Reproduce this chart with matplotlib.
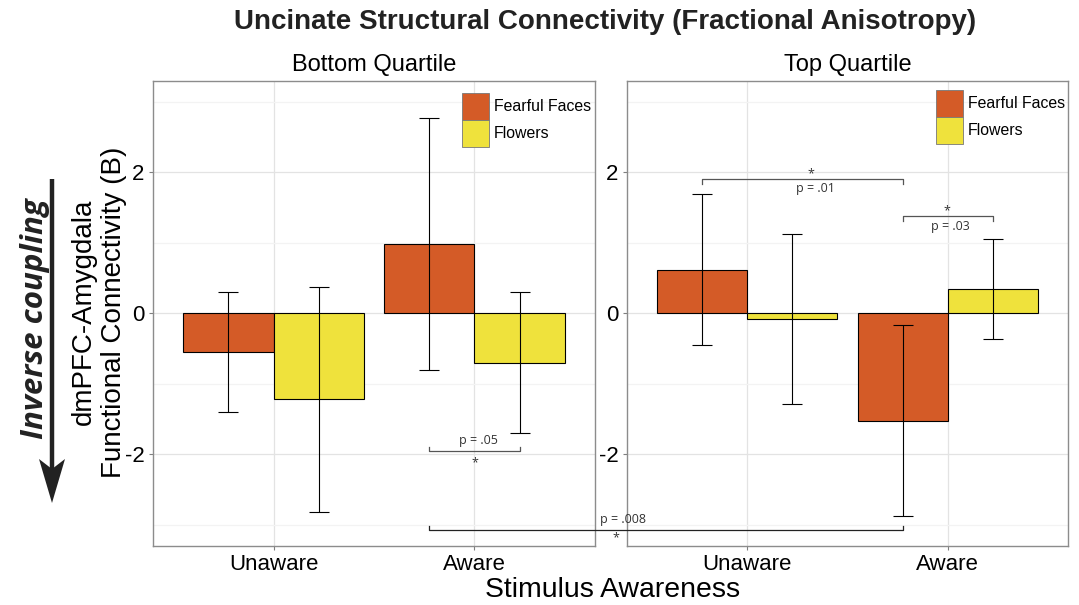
import numpy as np
import matplotlib
matplotlib.use("Agg")
import matplotlib.pyplot as plt
from matplotlib.lines import Line2D
from matplotlib.patches import Polygon

plt.rcParams['font.family'] = ['Liberation Sans', 'DejaVu Sans']

# data
conditions = ["Unaware", "Aware"]
stimuli = ["Fearful Faces", "Flowers"]
panels = ["Bottom Quartile", "Top Quartile"]

bottom_faces = [-0.55, 0.98]
bottom_faces_err = [0.85, 1.79]
bottom_flowers = [-1.22, -0.70]
bottom_flowers_err = [1.60, 1.00]

top_faces = [0.62, -1.52]
top_faces_err = [1.07, 1.35]
top_flowers = [-0.08, 0.34]
top_flowers_err = [1.20, 0.71]

colors = ["#D45B27", "#EFE23C"]

yticks = [-2, 0, 2]
ylims = (-3.3, 3.3)

fig = plt.figure(figsize=(10.79, 6.05), dpi=100)
W, H = 1079, 605


def px_axes(x0, x1, y0, y1):
    return fig.add_axes([x0 / W, 1 - y1 / H, (x1 - x0) / W, (y1 - y0) / H])


ax_left = px_axes(153, 595, 80.7, 546)
ax_right = px_axes(627, 1068, 80.7, 546)

x = np.arange(1, len(conditions) + 1)
bw = 0.45

series = [
    (ax_left, panels[0], bottom_faces, bottom_faces_err, bottom_flowers, bottom_flowers_err),
    (ax_right, panels[1], top_faces, top_faces_err, top_flowers, top_flowers_err),
]

for ax, title, f_vals, f_err, fl_vals, fl_err in series:
    ax.set_facecolor("white")
    ax.bar(x - bw / 2, f_vals, width=bw, color=colors[0], edgecolor="black",
           linewidth=0.8, label=stimuli[0], zorder=3)
    ax.bar(x + bw / 2, fl_vals, width=bw, color=colors[1], edgecolor="black",
           linewidth=0.8, label=stimuli[1], zorder=3)
    ax.errorbar(x - bw / 2, f_vals, yerr=f_err, fmt="none", ecolor="black",
                elinewidth=0.8, capsize=7, capthick=0.8, zorder=4)
    ax.errorbar(x + bw / 2, fl_vals, yerr=fl_err, fmt="none", ecolor="black",
                elinewidth=0.8, capsize=7, capthick=0.8, zorder=4)

    ax.set_xlim(0.4, 2.6)
    ax.set_ylim(*ylims)
    ax.set_xticks(x)
    ax.set_xticklabels(conditions, fontsize=16)
    ax.set_yticks(yticks)
    ax.set_yticklabels([str(t) for t in yticks], fontsize=16)
    ax.set_yticks([-3, -1, 1, 3], minor=True)
    ax.tick_params(axis="both", which="major", length=3, color="#7f7f7f",
                   width=0.8, pad=3)
    ax.tick_params(axis="y", which="minor", length=0)
    ax.grid(True, which="major", color="#e3e3e3", linewidth=0.9, zorder=0)
    ax.grid(True, which="minor", axis="y", color="#f3f3f3", linewidth=0.9, zorder=0)
    ax.set_axisbelow(True)
    for sp in ax.spines.values():
        sp.set_color("#8c8c8c")
        sp.set_linewidth(1.0)
    ax.set_title(title, fontsize=17, pad=7)

# legends
for ax, lx, ly in [(ax_left, 462, 93), (ax_right, 936, 90)]:
    leg = ax.legend(loc="upper left", bbox_to_anchor=(lx / W, 1 - ly / H),
                    bbox_transform=fig.transFigure, frameon=False, fontsize=11.4,
                    handlelength=1.7, handleheight=2.25, labelspacing=0.0,
                    handletextpad=0.3, borderpad=0, borderaxespad=0)
    for h in leg.legend_handles:
        h.set_edgecolor("#777777")
        h.set_linewidth(0.6)

# significance brackets
note_kw = dict(family=["Open Sans", "DejaVu Sans"], fontsize=9, color="#333333",
               ha="center", va="center")


def bracket(ax, x1, x2, y, tip, color="#555555"):
    ax.plot([x1, x1, x2, x2], [tip, y, y, tip], color=color, linewidth=0.9,
            zorder=5, clip_on=False)


# bottom quartile: aware faces vs aware flowers
bracket(ax_left, 2 - bw / 2, 2 + bw / 2, -1.95, -1.90)
ax_left.text(2.02, -1.81, "p = .05", **note_kw)
ax_left.text(2.0, -2.12, "*", **note_kw)

# top quartile: unaware faces vs aware faces
bracket(ax_right, 1 - bw / 2, 2 - bw / 2, 1.905, 1.84)
ax_right.text(1.34, 1.77, "p = .01", **note_kw)
ax_right.text(1.315, 1.98, "*", **note_kw)

# top quartile: aware faces vs aware flowers
bracket(ax_right, 2 - bw / 2, 2 + bw / 2, 1.376, 1.31)
ax_right.text(2.015, 1.23, "p = .03", **note_kw)
ax_right.text(1.995, 1.46, "*", **note_kw)

# across panels: aware faces bottom vs aware faces top
to_fig = fig.transFigure.inverted()
pL = to_fig.transform(ax_left.transData.transform((2 - bw / 2, -3.08)))
pLt = to_fig.transform(ax_left.transData.transform((2 - bw / 2, -3.02)))
pR = to_fig.transform(ax_right.transData.transform((2 - bw / 2, -3.08)))
pRt = to_fig.transform(ax_right.transData.transform((2 - bw / 2, -3.02)))
fig.add_artist(Line2D([pLt[0], pL[0], pR[0], pRt[0]], [pLt[1], pL[1], pR[1], pRt[1]],
                      color="#222222", linewidth=0.9, transform=fig.transFigure))
fig.text(623 / W, 1 - 520 / H, "p = .008", **note_kw)
fig.text(616 / W, 1 - 538 / H, "*", **note_kw)

# titles and labels
fig.text(605 / W, 1 - 22 / H, "Uncinate Structural Connectivity (Fractional Anisotropy)",
         fontsize=20, fontweight="bold", ha="center", va="center", color="#222222")
fig.text(613 / W, 1 - 590 / H, "Stimulus Awareness", fontsize=20.4,
         ha="center", va="center")
fig.text(99 / W, 1 - 312 / H, "dmPFC-Amygdala\nFunctional Connectivity (B)",
         fontsize=20, rotation=90, ha="center", va="center", linespacing=1.2)
fig.text(35 / W, 1 - 319 / H, "Inverse coupling", fontsize=22.5, rotation=90,
         style="italic", fontweight="bold", ha="center", va="center",
         family=["Open Sans", "DejaVu Sans"], color="#222222")

# downward arrow next to the label
fig.add_artist(Line2D([52 / W, 52 / W], [1 - 179 / H, 1 - 472 / H],
                      color="#222222", linewidth=3.2, transform=fig.transFigure,
                      solid_capstyle="butt"))
head_px = [(52, 503), (39, 459), (52, 469), (65, 459)]
fig.add_artist(Polygon([(px / W, 1 - py / H) for px, py in head_px], closed=True,
                       facecolor="#222222", edgecolor="none",
                       transform=fig.transFigure))

fig.savefig("out.png", dpi=100)
